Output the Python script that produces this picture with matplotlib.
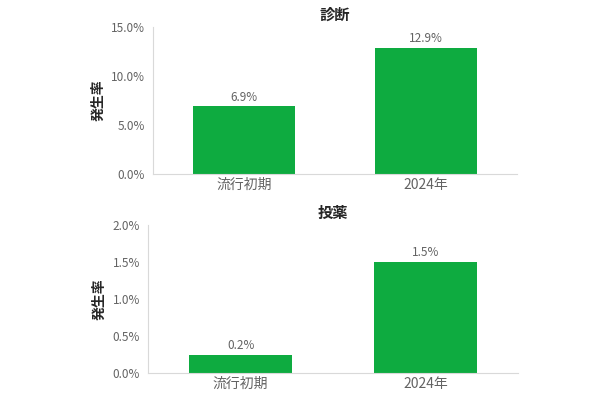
import matplotlib
matplotlib.use("Agg")
import matplotlib.pyplot as plt
from matplotlib.ticker import FuncFormatter, MultipleLocator

plt.rcParams['font.family'] = ['Noto Sans CJK JP', 'DejaVu Sans']

categories = ["流行初期", "2024年"]
diag_values = [6.9, 12.9]
drug_values = [0.24, 1.5]
titles = ["診断", "投薬"]
ylabel = "発生率"

GREEN = "#0EAB40"
GREY_TXT = "#636363"
AX_GREY = "#D9D9D9"

fig = plt.figure(figsize=(6, 4), dpi=100)
ax1 = fig.add_axes([0.255, 0.565, 0.607, 0.3675])
ax2 = fig.add_axes([0.247, 0.0675, 0.616, 0.37])

def style(ax, vals, title, ymax, step):
    x = range(len(categories))
    ax.bar(x, vals, width=0.56, color=GREEN)
    for xi, v in zip(x, vals):
        ax.annotate(f"{v:.1f}%", (xi, v), xytext=(0, 2), textcoords="offset points",
                    ha="center", va="bottom", fontsize=8.5, color=GREY_TXT)
    ax.set_xlim(-0.5, 1.5)
    ax.set_ylim(0, ymax)
    ax.yaxis.set_major_locator(MultipleLocator(step))
    ax.yaxis.set_major_formatter(FuncFormatter(lambda v, p: f"{v:.1f}%"))
    ax.set_xticks(list(x))
    ax.set_xticklabels(categories, fontsize=10, color=GREY_TXT)
    ax.tick_params(axis="y", labelsize=8.5, labelcolor=GREY_TXT, length=0, pad=6)
    ax.tick_params(axis="x", length=0, pad=3)
    for s in ["top", "right"]:
        ax.spines[s].set_visible(False)
    ax.spines["left"].set_color(AX_GREY)
    ax.spines["bottom"].set_color(AX_GREY)
    ax.set_title(title, fontsize=11, fontweight="bold", color="#262626", pad=5)
    ax.set_ylabel(ylabel, fontsize=10, fontweight="bold", color="#262626", labelpad=4)

style(ax1, diag_values, titles[0], 15, 5)
style(ax2, drug_values, titles[1], 2.0, 0.5)

fig.savefig("out.png", dpi=100, facecolor="white")
